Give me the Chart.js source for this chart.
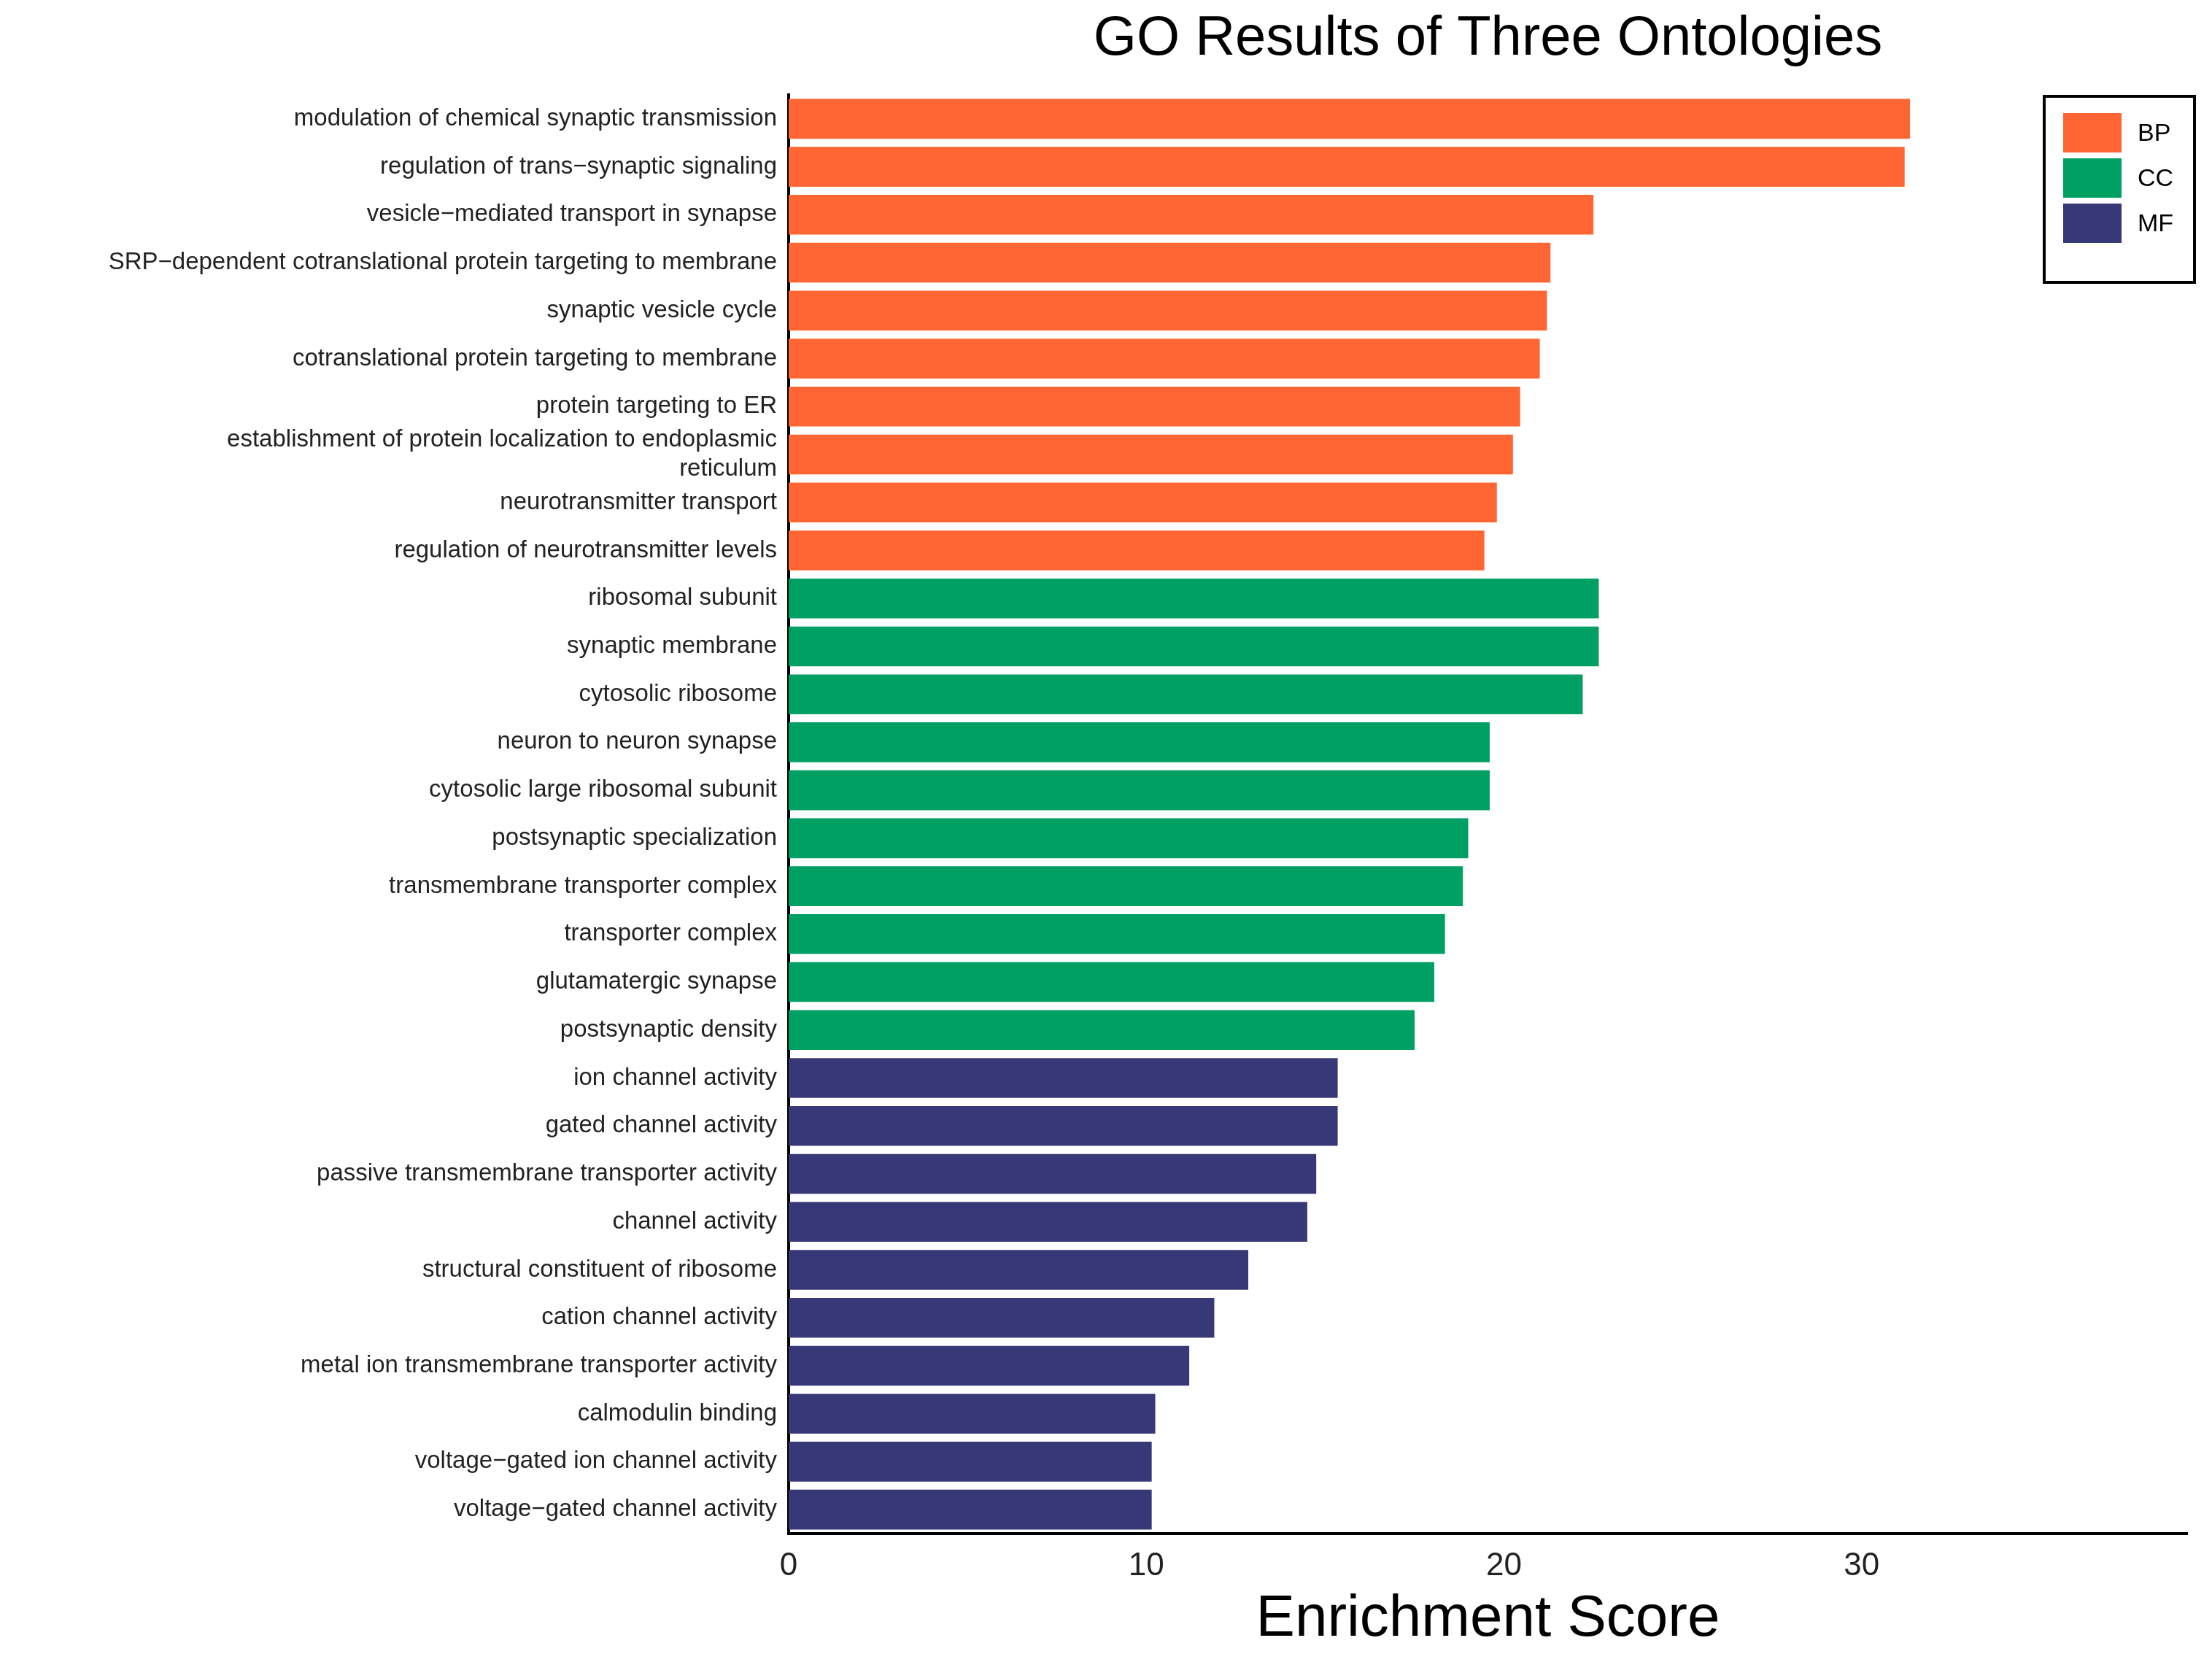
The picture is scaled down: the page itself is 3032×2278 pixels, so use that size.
<!DOCTYPE html>
<html>
<head>
<meta charset="utf-8">
<script src="https://cdn.jsdelivr.net/npm/chart.js"></script>
<style>
  html, body { margin: 0; padding: 0; background: #fff; }
  #wrap { width: 3032px; height: 2278px; }
</style>
</head>
<body>
<div id="wrap"><canvas id="goChart"></canvas></div>
<script>
// GO terms, top to bottom
const terms = [
    'modulation of chemical synaptic transmission',
    'regulation of trans\u2212synaptic signaling',
    'vesicle\u2212mediated transport in synapse',
    'SRP\u2212dependent cotranslational protein targeting to membrane',
    'synaptic vesicle cycle',
    'cotranslational protein targeting to membrane',
    'protein targeting to ER',
    ['establishment of protein localization to endoplasmic', 'reticulum'],
    'neurotransmitter transport',
    'regulation of neurotransmitter levels',
    'ribosomal subunit',
    'synaptic membrane',
    'cytosolic ribosome',
    'neuron to neuron synapse',
    'cytosolic large ribosomal subunit',
    'postsynaptic specialization',
    'transmembrane transporter complex',
    'transporter complex',
    'glutamatergic synapse',
    'postsynaptic density',
    'ion channel activity',
    'gated channel activity',
    'passive transmembrane transporter activity',
    'channel activity',
    'structural constituent of ribosome',
    'cation channel activity',
    'metal ion transmembrane transporter activity',
    'calmodulin binding',
    'voltage\u2212gated ion channel activity',
    'voltage\u2212gated channel activity'
];
const ontology = ['BP','BP','BP','BP','BP','BP','BP','BP','BP','BP',
                  'CC','CC','CC','CC','CC','CC','CC','CC','CC','CC',
                  'MF','MF','MF','MF','MF','MF','MF','MF','MF','MF'];
const scores = [31.35, 31.2, 22.5, 21.3, 21.2, 21.0, 20.45, 20.25, 19.8, 19.45,
                22.65, 22.65, 22.2, 19.6, 19.6, 19.0, 18.85, 18.35, 18.05, 17.5,
                15.35, 15.35, 14.75, 14.5, 12.85, 11.9, 11.2, 10.25, 10.15, 10.15];
const groups = ['BP', 'CC', 'MF'];
const groupColors = ['#FF6633', '#00A064', '#363877'];
const xTicks = [0, 10, 20, 30];

const FONT = '"Liberation Sans", Arial, sans-serif';

const datasets = groups.map((g, i) => ({
    label: g,
    data: scores.map((v, k) => ontology[k] === g ? v : null),
    backgroundColor: groupColors[i],
    categoryPercentage: 1,
    barPercentage: 0.83
}));

// title + legend box drawn on the canvas
const decor = {
    id: 'decor',
    afterDraw(chart) {
        const c = chart.ctx;
        const area = chart.chartArea;
        c.save();
        c.fillStyle = '#000';
        c.font = '76px ' + FONT;
        c.textAlign = 'center';
        c.textBaseline = 'middle';
        c.fillText('GO Results of Three Ontologies', (area.left + area.right) / 2, 54);

        const bx = 2802, by = 132, bw = 206, bh = 255;
        c.lineWidth = 4;
        c.strokeStyle = '#000';
        c.strokeRect(bx, by, bw, bh);
        c.font = '34px ' + FONT;
        c.textAlign = 'left';
        groups.forEach((g, i) => {
            const y = by + 50 + i * 62;
            c.fillStyle = groupColors[i];
            c.fillRect(bx + 26, y - 27, 80, 54);
            c.fillStyle = '#000';
            c.fillText(g, bx + 128, y + 2);
        });
        c.restore();
    }
};

new Chart(document.getElementById('goChart'), {
    type: 'bar',
    data: { labels: terms, datasets: datasets },
    plugins: [decor],
    options: {
        indexAxis: 'y',
        responsive: true,
        maintainAspectRatio: false,
        animation: false,
        layout: { padding: { top: 130, right: 34, left: 0, bottom: 0 } },
        plugins: { legend: { display: false }, tooltip: { enabled: false } },
        scales: {
            y: {
                stacked: true,
                grid: { display: false, drawTicks: true, tickLength: 10, tickColor: '#000' },
                border: { color: '#000', width: 4 },
                ticks: { color: '#222', font: { size: 33, family: FONT }, padding: 6, autoSkip: false },
                afterFit(scale) { scale.width = 1081; }
            },
            x: {
                stacked: true,
                min: 0,
                max: 39.1,
                grid: { display: false, drawTicks: true, tickLength: 12, tickColor: '#000' },
                border: { color: '#000', width: 4 },
                afterBuildTicks(scale) { scale.ticks = xTicks.map(v => ({ value: v })); },
                ticks: { color: '#222', font: { size: 44, family: FONT }, padding: 6 },
                title: {
                    display: true,
                    text: 'Enrichment Score',
                    color: '#000',
                    font: { size: 80, family: FONT },
                    padding: { top: 0, bottom: 10 }
                },
                afterFit(scale) { scale.height = 176; }
            }
        }
    }
});
</script>
</body>
</html>
